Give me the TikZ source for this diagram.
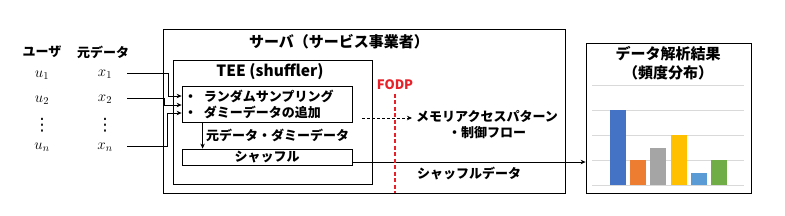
\RequirePackage{fix-cm}
\documentclass[tikz,border=0pt]{standalone}
\usepackage{fontspec}
\setmainfont{Noto Sans CJK JP}
\newfontfamily\dotsfont{DejaVu Sans}
\usepackage{xcolor}
\usepackage{tikz}
\usetikzlibrary{positioning,arrows.meta,calc}

\definecolor{barblue}{HTML}{4472C4}
\definecolor{barorange}{HTML}{ED7D31}
\definecolor{bargray}{HTML}{A5A5A5}
\definecolor{baryellow}{HTML}{FFC000}
\definecolor{barsky}{HTML}{5B9BD5}
\definecolor{bargreen}{HTML}{70AD47}
\definecolor{fodpred}{HTML}{E8202A}

\begin{document}
\begin{tikzpicture}[x=1pt, y=-1pt,
  font=\bfseries\fontsize{13}{16}\selectfont,
  box/.style={draw=black, line width=0.8pt, inner sep=0pt},
  sym/.style={inner sep=1pt, font=\fontsize{15}{16}\selectfont},
  datum/.style={sym, minimum width=44pt},
  dots/.style={inner sep=0pt, font=\dotsfont\mdseries\fontsize{17}{17}\selectfont},
  arr/.style={-{Stealth[length=5pt, width=4.5pt]}, line width=0.8pt},
  darr/.style={arr, dash pattern=on 3pt off 2pt},
  fodpline/.style={fodpred, line width=1.2pt, dash pattern=on 4pt off 2.5pt},
  grid/.style={black!15, line width=0.8pt}]
  \useasboundingbox (0,0) rectangle (785,215);
  % users and their data
  \node (users) at (42,52) {ユーザ};
  \node (orig) at (103,52) {元データ};
  \node[sym] (u1) at (42,75) {$u_1$};
  \node[sym] (u2) at (42,100) {$u_2$};
  \node[dots] (ud) at (42,125) {⋮};
  \node[sym] (un) at (42,147) {$u_n$};
  \node[datum] (x1) at (105,74) {$x_1$};
  \node[datum] (x2) at (105,99) {$x_2$};
  \node[dots] (xd) at (105,125) {⋮};
  \node[datum] (xn) at (105,147) {$x_n$};
  % server and TEE
  \node[box, minimum width=402pt, minimum height=164pt] (server) at (364,111) {};
  \node[font=\bfseries\fontsize{15}{18}\selectfont] (srvtitle) at (339,42) {サーバ（サービス事業者）};
  \node[box, minimum width=199pt, minimum height=124pt] (tee) at (272.5,122) {};
  \node[font=\bfseries\fontsize{15.5}{18}\selectfont] (teetitle) at (270,72) {TEE (shuffler)};
  \node[box, minimum width=170pt, minimum height=36pt, text width=166pt, inner xsep=2pt, align=left] (box1) at (267,104)
       {・\hspace{7pt}ランダムサンプリング\\・\hspace{7pt}ダミーデータの追加};
  \node[box, minimum width=170pt, minimum height=16pt] (box2) at (267,157) {シャッフル};
  \node[text=fodpred] (fodp) at (395,85) {FODP};
  \node[align=center, inner xsep=4pt] (mem) at (487,124.5) {メモリアクセスパターン\\・制御フロー};
  % analysis result
  \node[box, minimum width=165pt, minimum height=150pt] (chart) at (668.5,118) {};
  \node[align=center, font=\bfseries\fontsize{15}{19}\selectfont] (charttitle) at (668,63.5) {データ解析結果\\（頻度分布）};
  \foreach \g in {0,...,4} \draw[grid] (592,185-25*\g) -- (744,185-25*\g);
  \foreach \bx/\bv/\bc in {610/3/barblue, 630/1/barorange, 650/1.5/bargray, 671/2/baryellow, 691/0.5/barsky, 711/1/bargreen}
    \fill[\bc] (\bx,185) rectangle ++(16,-25*\bv);
  % connectors
  \draw[arr] ([yshift=1pt]x1.east) -- ++(41,0) |- ([yshift=8pt]box1.west);
  \draw[arr] ([yshift=1pt]x2.east) -- ++(37,0) |- ([yshift=-1pt]box1.west);
  \draw[arr] ([yshift=1pt]xn.east) -- ++(40,0) |- ([yshift=-9pt]box1.west);
  \draw[arr] ([xshift=21pt]box1.south west) -- node[right, inner xsep=3pt] {元データ・ダミーデータ} ([xshift=21pt]box2.north west);
  \coordinate (shufout) at ([yshift=-5pt]box2.east);
  \draw[arr] (shufout) -- node[below, pos=0.5, yshift=-1pt] {シャッフルデータ} (shufout -| chart.west);
  \coordinate (memsrc) at (362,118);
  \draw[darr] (memsrc) -- (memsrc -| mem.west);
  \draw[fodpline] (fodp.south) -- (fodp.south |- server.south);
\end{tikzpicture}
\end{document}
